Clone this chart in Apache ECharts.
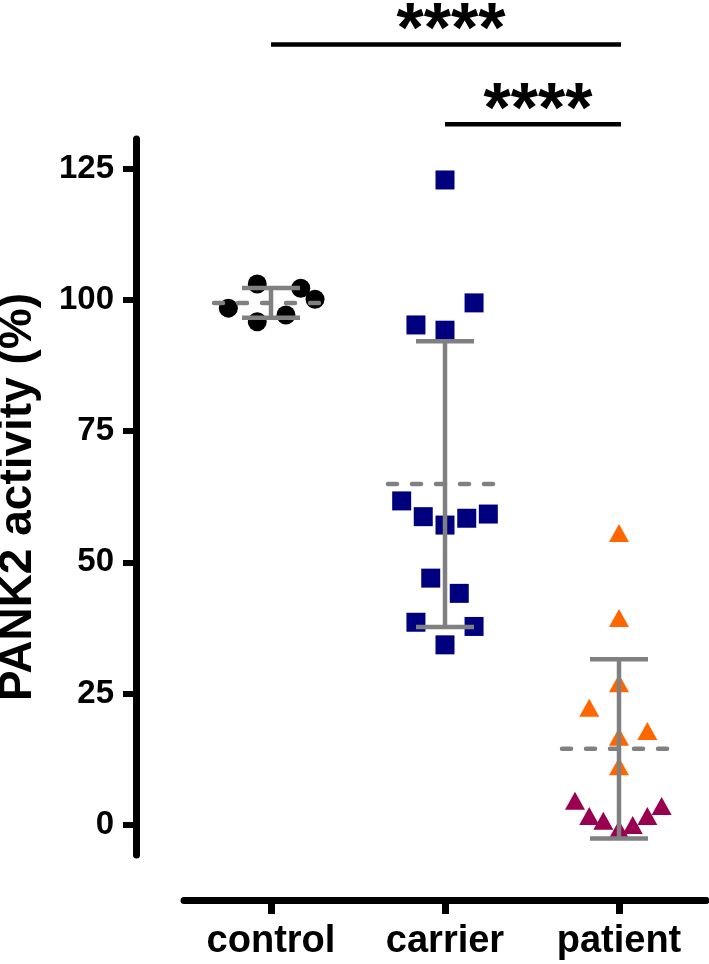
<!DOCTYPE html>
<html>
<head>
<meta charset="utf-8">
<script src="https://cdn.jsdelivr.net/npm/echarts@6/dist/echarts.min.js"></script>
<style>
html,body{margin:0;padding:0;background:#fff}
#chart{width:709px;height:964px}
</style>
</head>
<body>
<div id="chart"></div>
<script>
var groups = ['control', 'carrier', 'patient'];
var yTicks = [0, 25, 50, 75, 100, 125];

// x = offset from the group centre (1 = one group width), y = PANK2 activity (%)
var controlX = [-0.245, -0.079, -0.079, 0.086, 0.171, 0.253];
var controlY = [98.4, 103.0, 95.8, 97.1, 102.2, 100.1];

var carrierX = [0, 0.167, -0.167, 0, -0.249, -0.125, 0, 0.125, 0.249, -0.082, 0.082, -0.167, 0.167, 0];
var carrierY = [122.8, 99.4, 95.2, 94.2, 61.7, 58.7, 57.1, 58.4, 59.2, 47.0, 44.1, 38.6, 37.8, 34.3];

var patientOrangeX = [0, 0, 0, -0.171, 0.163, 0, 0];
var patientOrangeY = [55.6, 39.4, 27.0, 22.3, 17.9, 16.8, 11.2];
var patientPurpleX = [-0.253, -0.171, -0.09, 0, 0.079, 0.163, 0.245];
var patientPurpleY = [4.6, 1.7, 0.8, -0.8, 0.0, 1.7, 3.6];

// mean (dashed line) and SD (whiskers) as drawn
var groupMean = [99.4, 64.9, 14.5];
var groupSD = [2.85, 27.2, 17.05];

// significance brackets: group pair, height on the y scale, label
var sigPairs = [[0, 2], [1, 2]];
var sigHeight = [148.6, 133.4];
var sigLabel = ['****', '****'];

var FONT = '"Liberation Sans", Arial, sans-serif';

function pts(g, xs, ys) {
    var out = [];
    for (var i = 0; i < xs.length; i++) {
        out.push([g + 0.5 + xs[i], ys[i]]);
    }
    return out;
}

var statData = [];
for (var i = 0; i < groups.length; i++) {
    statData.push([i + 0.5, groupMean[i], groupSD[i]]);
}
var sigData = [];
for (var k = 0; k < sigPairs.length; k++) {
    sigData.push([sigPairs[k][0] + 0.5, sigPairs[k][1] + 0.5, sigHeight[k], sigLabel[k]]);
}

var myChart = echarts.init(document.getElementById('chart'));

var option = {
    animation: false,
    backgroundColor: '#fff',
    grid: {
        left: 184,
        right: 3,
        top: 139,
        bottom: 109,
        outerBoundsMode: 'none'
    },
    xAxis: [{
        type: 'category',
        data: groups,
        position: 'bottom',
        offset: 45,
        axisLine: { onZero: false, lineStyle: { color: '#000', width: 7 } },
        axisTick: { show: true, alignWithLabel: true, interval: 0, length: 14, lineStyle: { color: '#000', width: 7 } },
        axisLabel: {
            color: '#000',
            fontFamily: FONT,
            fontWeight: 'bold',
            fontSize: 38,
            margin: 23
        },
        splitLine: { show: false }
    }, {
        type: 'value',
        show: false,
        min: 0,
        max: 3
    }],
    yAxis: [{
        type: 'value',
        min: -5.71,
        max: 130.6,
        offset: 48,
        name: 'PANK2 activity (%)',
        nameLocation: 'middle',
        nameRotate: 90,
        nameGap: 95,
        nameTextStyle: {
            color: '#000',
            fontFamily: FONT,
            fontWeight: 'bold',
            fontSize: 46
        },
        axisLine: { show: true, onZero: false, lineStyle: { color: '#000', width: 7 } },
        axisTick: { show: true, customValues: yTicks, length: 13, lineStyle: { color: '#000', width: 6 } },
        axisLabel: {
            customValues: yTicks,
            color: '#000',
            fontFamily: FONT,
            fontWeight: 'bold',
            fontSize: 33,
            margin: 22
        },
        splitLine: { show: false }
    }],
    series: [{
        name: 'control',
        type: 'scatter',
        xAxisIndex: 1,
        symbol: 'circle',
        symbolSize: 19,
        itemStyle: { color: '#000', opacity: 1 },
        data: pts(0, controlX, controlY)
    }, {
        name: 'carrier',
        type: 'scatter',
        xAxisIndex: 1,
        symbol: 'rect',
        symbolSize: 19,
        itemStyle: { color: '#00007f', opacity: 1 },
        data: pts(1, carrierX, carrierY)
    }, {
        name: 'patient',
        type: 'scatter',
        xAxisIndex: 1,
        symbol: 'triangle',
        symbolSize: [20, 18],
        itemStyle: { color: '#ff6600', opacity: 1 },
        data: pts(2, patientOrangeX, patientOrangeY)
    }, {
        name: 'patient2',
        type: 'scatter',
        xAxisIndex: 1,
        symbol: 'triangle',
        symbolSize: [20, 18],
        itemStyle: { color: '#990050', opacity: 1 },
        data: pts(2, patientPurpleX, patientPurpleY)
    }, {
        // mean +/- SD
        type: 'custom',
        xAxisIndex: 1,
        z: 5,
        clip: false,
        silent: true,
        data: statData,
        renderItem: function (params, api) {
            var x = api.value(0), m = api.value(1), sd = api.value(2);
            var top = api.coord([x, m + sd]);
            var bot = api.coord([x, m - sd]);
            var mid = api.coord([x, m]);
            var capW = 29;
            var st = { stroke: '#808080', lineWidth: 4.5 };
            return {
                type: 'group',
                children: [
                    { type: 'line', shape: { x1: top[0], y1: top[1], x2: bot[0], y2: bot[1] }, style: st },
                    { type: 'line', shape: { x1: top[0] - capW, y1: top[1], x2: top[0] + capW, y2: top[1] }, style: st },
                    { type: 'line', shape: { x1: bot[0] - capW, y1: bot[1], x2: bot[0] + capW, y2: bot[1] }, style: st },
                    {
                        type: 'line',
                        shape: { x1: mid[0] - 57, y1: mid[1], x2: mid[0] + 52, y2: mid[1] },
                        style: { stroke: '#808080', lineWidth: 4.5, lineDash: [9, 15], lineCap: 'round' }
                    }
                ]
            };
        }
    }, {
        // significance brackets
        type: 'custom',
        xAxisIndex: 1,
        z: 5,
        clip: false,
        silent: true,
        data: sigData,
        renderItem: function (params, api) {
            var p1 = api.coord([api.value(0), api.value(2)]);
            var p2 = api.coord([api.value(1), api.value(2)]);
            return {
                type: 'group',
                children: [
                    { type: 'line', shape: { x1: p1[0], y1: p1[1], x2: p2[0] + 2, y2: p2[1] }, style: { stroke: '#000', lineWidth: 4.5 } },
                    {
                        type: 'text',
                        x: (p1[0] + p2[0]) / 2 + 6,
                        y: p1[1] - 12,
                        style: {
                            text: sigData[params.dataIndex][3],
                            fill: '#000',
                            fontFamily: FONT,
                            fontWeight: 'bold',
                            fontSize: 70,
                            align: 'center',
                            verticalAlign: 'middle'
                        }
                    }
                ]
            };
        }
    }]
};

myChart.setOption(option);
</script>
</body>
</html>
